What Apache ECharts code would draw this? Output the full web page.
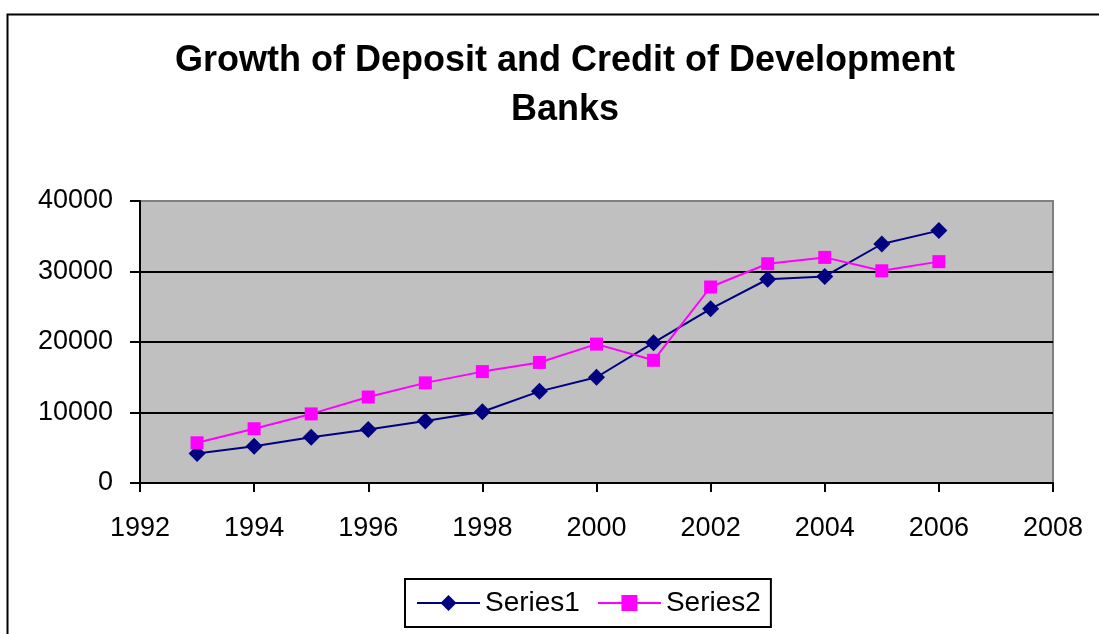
<!DOCTYPE html>
<html>
<head>
<meta charset="utf-8">
<script src="https://cdn.jsdelivr.net/npm/echarts@6/dist/echarts.min.js"></script>
<style>
  html, body { margin: 0; padding: 0; background: #ffffff; }
  #chart { width: 1099px; height: 634px; }
</style>
</head>
<body>
<div id="chart"></div>
<script>
// Years and the two yearly series
const years = [1993, 1994, 1995, 1996, 1997, 1998, 1999, 2000, 2001, 2002, 2003, 2004, 2005, 2006];
const series1 = [4200, 5200, 6500, 7600, 8800, 10100, 13000, 15000, 19900, 24700, 28900, 29300, 33900, 35800];
const series2 = [5700, 7700, 9800, 12200, 14200, 15800, 17100, 19700, 17400, 27800, 31100, 32000, 30100, 31400];
const seriesNames = ['Series1', 'Series2'];
const titleText = 'Growth of Deposit and Credit of Development\nBanks';

const FONT = '"Liberation Sans", Arial, sans-serif';

const pairs = (vals) => years.map((y, i) => [y, vals[i]]);
const plain = (v) => String(v);

const chart = echarts.init(document.getElementById('chart'), null, { renderer: 'canvas' });

chart.setOption({
  animation: false,
  backgroundColor: '#ffffff',
  graphic: [{
    type: 'rect',
    left: 5, top: 12,
    shape: { width: 1200, height: 700 },
    style: { fill: 'none', stroke: '#000000', lineWidth: 2 },
    z: -10
  }],
  title: {
    text: titleText,
    left: 560,
    top: 32,
    textAlign: 'center',
    textStyle: {
      fontFamily: FONT,
      fontWeight: 'bold',
      fontSize: 36,
      lineHeight: 49,
      color: '#000000'
    }
  },
  legend: {
    data: seriesNames,
    left: 405,
    top: 579,
    padding: [10, 10, 10, 11],
    itemWidth: 63,
    itemHeight: 20,
    itemGap: 17,
    borderColor: '#000000',
    borderWidth: 2,
    backgroundColor: '#ffffff',
    textStyle: { fontFamily: FONT, fontSize: 28, color: '#000000' }
  },
  grid: {
    left: 140,
    right: 46,
    top: 201,
    bottom: 151,
    show: true,
    backgroundColor: '#C0C0C0',
    borderColor: '#808080',
    borderWidth: 2
  },
  xAxis: {
    type: 'value',
    min: 1992,
    max: 2008,
    interval: 2,
    axisLine: { show: true, lineStyle: { color: '#000000', width: 2 } },
    axisTick: { show: true, length: 9, inside: false, lineStyle: { color: '#000000', width: 2 } },
    axisLabel: { fontFamily: FONT, fontSize: 27, color: '#000000', margin: 32, formatter: plain },
    splitLine: { show: false }
  },
  yAxis: {
    type: 'value',
    min: 0,
    max: 40000,
    interval: 10000,
    axisLine: { show: true, lineStyle: { color: '#000000', width: 2 } },
    axisTick: { show: true, length: 10, inside: false, lineStyle: { color: '#000000', width: 2 } },
    axisLabel: { fontFamily: FONT, fontSize: 27, color: '#000000', margin: 27, formatter: plain },
    splitLine: {
      show: true,
      lineStyle: { color: ['#000000', '#000000', '#000000', '#000000', '#808080'], width: 2 }
    }
  },
  series: [
    {
      name: seriesNames[0],
      type: 'line',
      data: pairs(series1),
      symbol: 'diamond',
      symbolSize: 17,
      showAllSymbol: true,
      itemStyle: { color: '#000080' },
      lineStyle: { color: '#000080', width: 2 },
      z: 3
    },
    {
      name: seriesNames[1],
      type: 'line',
      data: pairs(series2),
      symbol: 'rect',
      symbolSize: 13,
      showAllSymbol: true,
      itemStyle: { color: '#FF00FF' },
      lineStyle: { color: '#FF00FF', width: 2 },
      z: 4
    }
  ]
});
</script>
</body>
</html>
